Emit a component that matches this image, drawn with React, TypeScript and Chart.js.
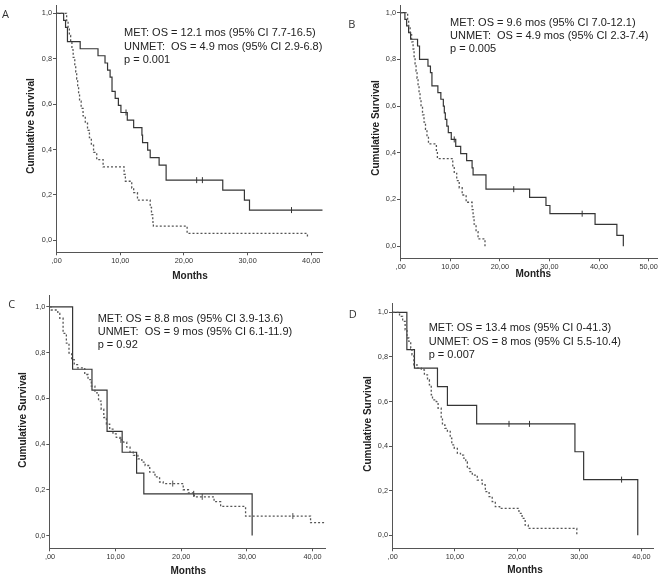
import React, { useEffect, useRef } from "react";
import { Chart, registerables } from "chart.js";

Chart.register(...registerables);

// ---------- tick values ----------
const X_TICKS_40 = [0, 10, 20, 30, 40];
const X_TICKS_50 = [0, 10, 20, 30, 40, 50];
const Y_TICKS = [0, 0.2, 0.4, 0.6, 0.8, 1.0];

// ---------- Panel A ----------
const A_MET_T = [0, 1.1, 1.4, 1.7, 3.7, 6.5, 7.6, 8.0, 8.4, 8.7, 9.2, 9.7, 10.1, 11.1, 12.1, 13.4, 13.5, 14.3, 14.7, 16.1, 17.2, 26.1, 29.5, 30.3, 41.8];
const A_MET_S = [1, 0.969, 0.938, 0.875, 0.844, 0.813, 0.781, 0.75, 0.719, 0.656, 0.625, 0.594, 0.563, 0.529, 0.496, 0.463, 0.43, 0.397, 0.364, 0.331, 0.265, 0.221, 0.177, 0.133, 0.133];
const A_MET_CT = [10.9, 22.0, 22.9, 36.9];
const A_MET_CS = [0.563, 0.265, 0.265, 0.133];
const A_UNMET_T = [0, 1.57, 1.8, 2.0, 2.2, 2.4, 2.6, 2.85, 3.0, 3.15, 3.3, 3.45, 3.6, 3.85, 4.15, 4.5, 4.85, 5.15, 5.45, 5.8, 6.3, 7.3, 10.6, 10.8, 11.8, 12.1, 12.7, 14.7, 14.9, 15.1, 15.2, 20.5, 39.4, 39.4];
const A_UNMET_S = [1, 0.968, 0.935, 0.903, 0.871, 0.839, 0.806, 0.774, 0.742, 0.71, 0.677, 0.645, 0.613, 0.581, 0.548, 0.516, 0.484, 0.452, 0.419, 0.387, 0.355, 0.323, 0.29, 0.26, 0.23, 0.21, 0.177, 0.145, 0.113, 0.08, 0.062, 0.03, 0.03, 0.015];
const A_UNMET_CT: number[] = [];
const A_UNMET_CS: number[] = [];
const A_STATS = ["MET: OS = 12.1 mos (95% CI 7.7-16.5)", "UNMET:  OS = 4.9 mos (95% CI 2.9-6.8)", "p = 0.001"];

// ---------- Panel B ----------
const B_MET_T = [0, 0.85, 1.2, 1.6, 2.0, 3.4, 3.8, 5.5, 6.0, 6.3, 7.5, 8.1, 8.6, 8.8, 9.0, 9.3, 9.6, 10.2, 11.1, 12.1, 13.3, 14.4, 14.6, 17.2, 26.0, 29.3, 30.1, 39.2, 43.6, 44.9];
const B_MET_S = [1, 0.971, 0.943, 0.914, 0.886, 0.857, 0.8, 0.771, 0.743, 0.686, 0.657, 0.629, 0.6, 0.571, 0.543, 0.514, 0.486, 0.457, 0.427, 0.396, 0.366, 0.335, 0.305, 0.244, 0.209, 0.174, 0.139, 0.093, 0.046, 0];
const B_MET_CT = [10.8, 22.8, 36.6];
const B_MET_CS = [0.457, 0.244, 0.139];
const B_UNMET_T = [0, 1.4, 1.6, 1.9, 2.2, 2.5, 2.7, 2.9, 3.1, 3.3, 3.5, 3.7, 3.9, 4.1, 4.4, 4.7, 5.0, 5.3, 5.6, 7.2, 7.4, 10.5, 10.8, 11.3, 11.8, 12.4, 13.2, 14.4, 14.6, 14.8, 15.2, 15.6, 17.0];
const B_UNMET_S = [1, 0.969, 0.938, 0.906, 0.875, 0.844, 0.812, 0.781, 0.75, 0.719, 0.688, 0.656, 0.625, 0.594, 0.562, 0.531, 0.5, 0.469, 0.438, 0.406, 0.375, 0.344, 0.312, 0.281, 0.25, 0.219, 0.188, 0.156, 0.125, 0.094, 0.062, 0.031, 0];
const B_UNMET_CT: number[] = [];
const B_UNMET_CS: number[] = [];
const B_STATS = ["MET: OS = 9.6 mos (95% CI 7.0-12.1)", "UNMET:  OS = 4.9 mos (95% CI 2.3-7.4)", "p = 0.005"];

// ---------- Panel C ----------
const C_MET_T = [0, 3.45, 6.4, 8.7, 11.0, 13.2, 14.3, 30.8];
const C_MET_S = [1, 0.727, 0.636, 0.455, 0.364, 0.273, 0.182, 0];
const C_MET_CT = [21.9];
const C_MET_CS = [0.182];
const C_UNMET_T = [0, 0.2, 1.2, 1.5, 2.0, 2.5, 2.9, 3.3, 3.7, 4.2, 5.3, 5.8, 6.3, 6.85, 7.4, 7.8, 8.2, 8.6, 9.1, 9.6, 10.1, 10.65, 11.2, 11.7, 12.2, 12.7, 13.4, 14.0, 14.5, 15.2, 16.0, 16.7, 17.25, 20.3, 21.1, 22.0, 25.0, 26.0, 29.8, 39.7, 41.9];
const C_UNMET_S = [1, 0.986, 0.971, 0.95, 0.884, 0.841, 0.798, 0.769, 0.747, 0.733, 0.704, 0.682, 0.653, 0.624, 0.588, 0.552, 0.516, 0.487, 0.465, 0.444, 0.429, 0.418, 0.408, 0.386, 0.364, 0.35, 0.335, 0.321, 0.306, 0.277, 0.256, 0.234, 0.227, 0.2, 0.186, 0.169, 0.148, 0.127, 0.085, 0.056, 0.056];
const C_UNMET_CT = [10.8, 18.7, 23.2, 37.0];
const C_UNMET_CS = [0.418, 0.227, 0.169, 0.085];
const C_STATS = ["MET: OS = 8.8 mos (95% CI 3.9-13.6)", "UNMET:  OS = 9 mos (95% CI 6.1-11.9)", "p = 0.92"];

// ---------- Panel D ----------
const D_MET_T = [0, 2.28, 3.5, 7.2, 8.8, 13.5, 29.3, 30.7, 39.4];
const D_MET_S = [1, 0.833, 0.75, 0.667, 0.583, 0.5, 0.375, 0.25, 0];
const D_MET_CT = [18.7, 22.0, 36.8];
const D_MET_CS = [0.5, 0.5, 0.25];
const D_UNMET_T = [0, 1.1, 1.6, 2.0, 2.3, 2.6, 2.9, 3.1, 3.4, 3.9, 4.6, 5.1, 5.6, 5.9, 6.2, 6.4, 7.0, 7.3, 7.8, 8.0, 8.4, 8.8, 9.25, 9.5, 9.9, 10.4, 10.9, 11.4, 11.75, 12.0, 12.4, 12.8, 13.6, 14.4, 14.9, 15.5, 16.0, 16.5, 17.2, 20.3, 20.8, 21.3, 21.8, 29.6];
const D_UNMET_S = [1, 0.982, 0.96, 0.922, 0.885, 0.87, 0.84, 0.81, 0.765, 0.75, 0.742, 0.72, 0.698, 0.675, 0.63, 0.608, 0.6, 0.57, 0.525, 0.495, 0.48, 0.466, 0.436, 0.406, 0.39, 0.368, 0.36, 0.346, 0.33, 0.3, 0.286, 0.27, 0.248, 0.226, 0.196, 0.174, 0.151, 0.129, 0.121, 0.099, 0.076, 0.046, 0.031, 0];
const D_UNMET_CT: number[] = [];
const D_UNMET_CS: number[] = [];
const D_STATS = ["MET: OS = 13.4 mos (95% CI 0-41.3)", "UNMET: OS = 8 mos (95% CI 5.5-10.4)", "p = 0.007"];

const X_TITLE = "Months";
const Y_TITLE = "Cumulative Survival";

type PanelCfg = {
  letter: string;
  metT: number[]; metS: number[]; metCT: number[]; metCS: number[];
  unT: number[]; unS: number[]; unCT: number[]; unCS: number[];
  stats: string[];
  xTicks: number[];
  xMin: number; xMax: number; yMin: number; yMax: number;
  left: number; top: number; w: number; h: number;
  plotL: number; plotT: number; plotR: number; plotB: number;
  letterX: number; letterY: number;
  statsX: number; statsY: number[];
  xTitleX: number; xTitleY: number;
  yTitleX: number; yTitleY: number;
};

const PANELS: PanelCfg[] = [
  {
    letter: "A", metT: A_MET_T, metS: A_MET_S, metCT: A_MET_CT, metCS: A_MET_CS,
    unT: A_UNMET_T, unS: A_UNMET_S, unCT: A_UNMET_CT, unCS: A_UNMET_CS, stats: A_STATS,
    xTicks: X_TICKS_40, xMin: -0.1, xMax: 41.8, yMin: -0.053, yMax: 1.035,
    left: 0, top: 0, w: 330, h: 290, plotL: 56, plotT: 1, plotR: 322.7, plotB: 252.3,
    letterX: 5.5, letterY: 15, statsX: 124, statsY: [33, 46.5, 60],
    xTitleX: 190, xTitleY: 276.5, yTitleX: 31.7, yTitleY: 126,
  },
  {
    letter: "B", metT: B_MET_T, metS: B_MET_S, metCT: B_MET_CT, metCS: B_MET_CS,
    unT: B_UNMET_T, unS: B_UNMET_S, unCT: B_UNMET_CT, unCS: B_UNMET_CS, stats: B_STATS,
    xTicks: X_TICKS_50, xMin: -0.14, xMax: 52.7, yMin: -0.052, yMax: 1.031,
    left: 330, top: 0, w: 337, h: 290, plotL: 400, plotT: 0, plotR: 667, plotB: 258.3,
    letterX: 351.7, letterY: 25, statsX: 450, statsY: [23.3, 36, 48.5],
    xTitleX: 533.3, xTitleY: 274, yTitleX: 376.7, yTitleY: 128,
  },
  {
    letter: "C", metT: C_MET_T, metS: C_MET_S, metCT: C_MET_CT, metCS: C_MET_CS,
    unT: C_UNMET_T, unS: C_UNMET_S, unCT: C_UNMET_CT, unCS: C_UNMET_CS, stats: C_STATS,
    xTicks: X_TICKS_40, xMin: -0.1, xMax: 41.9, yMin: -0.056, yMax: 1.05,
    left: 0, top: 290, w: 330, h: 286, plotL: 49.3, plotT: 293, plotR: 325.3, plotB: 548.3,
    letterX: 11.7, letterY: 305, statsX: 97.7, statsY: [318.7, 331.8, 345],
    xTitleX: 188.3, xTitleY: 571.5, yTitleX: 23.3, yTitleY: 420,
  },
  {
    letter: "D", metT: D_MET_T, metS: D_MET_S, metCT: D_MET_CT, metCS: D_MET_CS,
    unT: D_UNMET_T, unS: D_UNMET_S, unCT: D_UNMET_CT, unCS: D_UNMET_CS, stats: D_STATS,
    xTicks: X_TICKS_40, xMin: -0.11, xMax: 41.85, yMin: -0.058, yMax: 1.042,
    left: 330, top: 290, w: 328, h: 286, plotL: 392, plotT: 303, plotR: 655.3, plotB: 548.3,
    letterX: 352.7, letterY: 315, statsX: 428.7, statsY: [328.3, 341.5, 354.8],
    xTitleX: 525, xTitleY: 570, yTitleX: 368.3, yTitleY: 424,
  },
];

const pts = (t: number[], s: number[]) => t.map((x, i) => ({ x, y: s[i] }));

function makeTextPlugin(p: PanelCfg) {
  return {
    id: "panelText" + p.letter,
    afterDraw(chart: any) {
      const ctx = chart.ctx as CanvasRenderingContext2D;
      ctx.save();
      ctx.translate(-p.left, -p.top);
      ctx.textBaseline = "middle";
      ctx.fillStyle = "#333";
      ctx.font = '11px "Open Sans"';
      ctx.textAlign = "center";
      ctx.fillText(p.letter, p.letterX, p.letterY);
      ctx.font = '11px "Liberation Sans"';
      ctx.textAlign = "left";
      ctx.fillStyle = "#222";
      p.stats.forEach((s, i) => ctx.fillText(s, p.statsX, p.statsY[i]));
      ctx.font = 'bold 10px "Liberation Sans"';
      ctx.fillStyle = "#222";
      ctx.textAlign = "center";
      ctx.fillText(X_TITLE, p.xTitleX, p.xTitleY);
      ctx.translate(p.yTitleX, p.yTitleY);
      ctx.rotate(-Math.PI / 2);
      ctx.fillText(Y_TITLE, 0, 0);
      ctx.restore();
    },
  };
}

function Panel({ p }: { p: PanelCfg }) {
  const ref = useRef<HTMLCanvasElement | null>(null);
  useEffect(() => {
    if (!ref.current) return;
    const tickFont = { family: '"Liberation Sans"', size: 7.3 };
    const chart = new Chart(ref.current, {
      type: "line",
      data: {
        datasets: [
          {
            data: pts(p.unT, p.unS),
            stepped: "before",
            borderColor: "#555",
            borderWidth: 1.3,
            borderDash: [2, 2],
            pointRadius: 0,
            fill: false,
          },
          {
            data: pts(p.metT, p.metS),
            stepped: "before",
            borderColor: "#353535",
            borderWidth: 1.2,
            pointRadius: 0,
            fill: false,
          },
          {
            data: pts(p.metCT, p.metCS),
            showLine: false,
            pointStyle: "line",
            rotation: 90,
            pointRadius: 3,
            borderColor: "#353535",
            borderWidth: 1,
          },
          {
            data: pts(p.unCT, p.unCS),
            showLine: false,
            pointStyle: "line",
            rotation: 90,
            pointRadius: 3,
            borderColor: "#555",
            borderWidth: 1,
          },
        ] as any,
      },
      options: {
        animation: false,
        responsive: false,
        devicePixelRatio: 1,
        events: [],
        layout: {
          padding: { left: 0, bottom: 0, top: p.plotT - p.top, right: p.left + p.w - p.plotR },
        },
        plugins: { legend: { display: false }, tooltip: { enabled: false } },
        scales: {
          x: {
            type: "linear",
            min: p.xMin,
            max: p.xMax,
            afterBuildTicks: (s: any) => {
              s.ticks = p.xTicks.map((v) => ({ value: v }));
            },
            afterFit: (s: any) => {
              s.height = p.top + p.h - p.plotB;
            },
            ticks: {
              autoSkip: false,
              maxRotation: 0,
              padding: 1,
              color: "#333",
              font: tickFont,
              callback: (v: any) => (Number(v) === 0 ? ",00" : Number(v).toFixed(2).replace(".", ",")),
            },
            grid: { display: true, drawOnChartArea: false, drawTicks: true, tickLength: 3, tickColor: "#555", color: "#555" },
            border: { display: true, color: "#555", width: 1 },
          },
          y: {
            type: "linear",
            min: p.yMin,
            max: p.yMax,
            afterBuildTicks: (s: any) => {
              s.ticks = Y_TICKS.map((v) => ({ value: v }));
            },
            afterFit: (s: any) => {
              s.width = p.plotL - p.left;
            },
            ticks: {
              autoSkip: false,
              padding: 1,
              color: "#333",
              font: tickFont,
              callback: (v: any) => Number(v).toFixed(1).replace(".", ","),
            },
            grid: { display: true, drawOnChartArea: false, drawTicks: true, tickLength: 3, tickColor: "#555", color: "#555" },
            border: { display: true, color: "#555", width: 1 },
          },
        },
      } as any,
      plugins: [makeTextPlugin(p)],
    });
    return () => chart.destroy();
  }, [p]);
  return (
    <canvas
      ref={ref}
      width={p.w}
      height={p.h}
      style={{ position: "absolute", left: p.left, top: p.top, width: p.w, height: p.h }}
    />
  );
}

export default function App() {
  return (
    <div
      style={{
        position: "fixed",
        left: 0,
        top: 0,
        width: 658,
        height: 576,
        overflow: "hidden",
        background: "#fff",
      }}
    >
      {PANELS.map((p) => (
        <Panel key={p.letter} p={p} />
      ))}
    </div>
  );
}
